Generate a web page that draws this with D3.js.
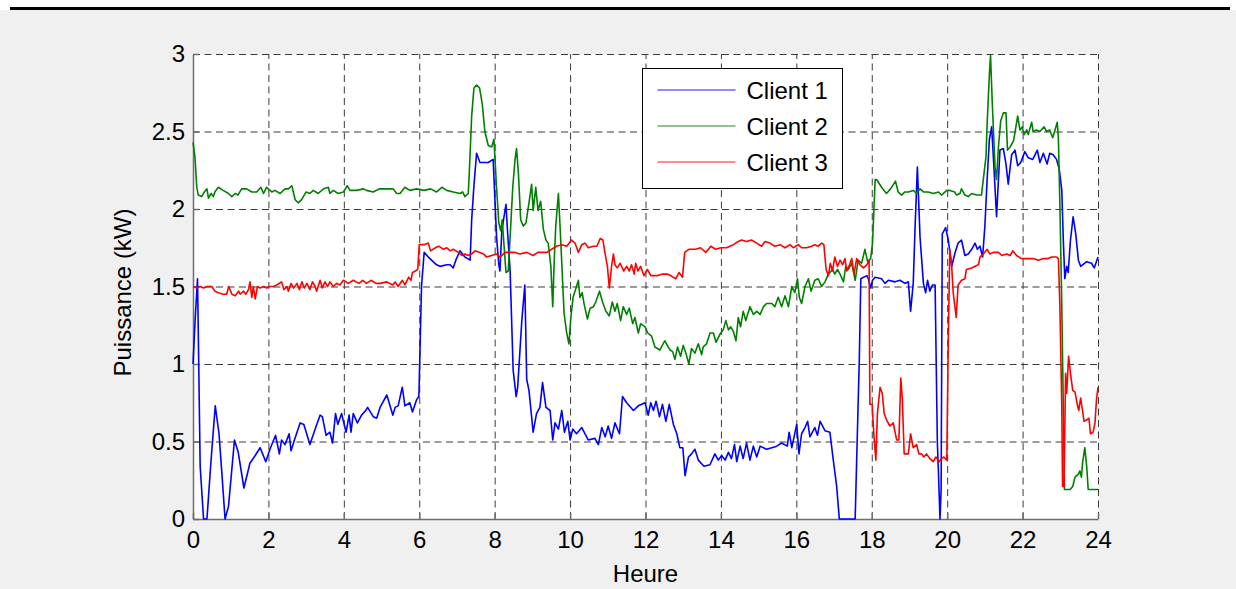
<!DOCTYPE html>
<html lang="fr">
<head>
<meta charset="UTF-8">
<script src="https://cdn.jsdelivr.net/npm/d3@7/dist/d3.min.js"></script>
<title>Puissance par client</title>
<style>
  body { margin: 0; background: #fff; }
  text { font-family: "Liberation Sans", Arial, Helvetica, sans-serif; fill: #000; }
  .tick_text { font-size: 24px; }
  .axis_text { font-size: 24px; }
  .legend_text { font-size: 24px; }
  .grid line { stroke: #3a3a3a; stroke-width: 1; stroke-dasharray: 7,4.5; }
  .grid path { display: none; }
  .axis path, .axis line { stroke: #6e6e6e; stroke-width: 1.5; fill: none; }
</style>
</head>
<body>
<div id="chart"></div>
<script>
// hours / kW pairs
var client1 = [[0,1.0],[0.06,1.3],[0.12,1.55],[0.19,0.34],[0.28,0],[0.37,0],[0.47,0.35],[0.59,0.73],[0.69,0.55],[0.77,0.28],[0.85,0],[0.94,0.08],
  [1.1,0.51],[1.2,0.43],[1.35,0.2],[1.51,0.36],[1.65,0.41],[1.78,0.46],[1.93,0.37],[2.04,0.45],[2.19,0.54],[2.29,0.42],[2.35,0.51],[2.44,0.48],
  [2.55,0.55],[2.6,0.44],[2.69,0.51],[2.84,0.62],[2.94,0.61],[3.1,0.48],[3.24,0.58],[3.37,0.67],[3.43,0.66],[3.53,0.54],[3.63,0.56],[3.7,0.49],
  [3.78,0.68],[3.84,0.61],[3.94,0.68],[4.06,0.56],[4.14,0.67],[4.19,0.56],[4.25,0.68],[4.36,0.62],[4.47,0.67],[4.58,0.70],[4.63,0.72],[4.78,0.66],
  [4.87,0.65],[4.96,0.72],[5.14,0.80],[5.3,0.67],[5.36,0.72],[5.44,0.73],[5.55,0.85],[5.62,0.73],[5.75,0.75],[5.82,0.69],[5.93,0.77],[5.99,0.79],
  [6.06,1.5],[6.13,1.72],[6.24,1.69],[6.46,1.64],[6.55,1.63],[6.73,1.64],[6.82,1.64],[6.9,1.62],[6.97,1.67],[7.08,1.73],[7.21,1.69],[7.35,1.67],
  [7.39,1.93],[7.45,2.15],[7.52,2.36],[7.61,2.3],[7.83,2.3],[7.96,2.32],[8.05,1.82],[8.11,1.64],[8.14,1.6],[8.19,1.86],[8.3,2.03],[8.34,1.86],
  [8.41,1.6],[8.49,0.96],[8.57,0.79],[8.61,0.85],[8.72,1.28],[8.8,1.51],[8.85,0.9],[8.91,0.83],[9.02,0.56],[9.11,0.68],[9.2,0.72],[9.27,0.88],
  [9.36,0.72],[9.47,0.70],[9.54,0.51],[9.6,0.62],[9.69,0.58],[9.78,0.70],[9.85,0.56],[9.94,0.63],[10.0,0.51],[10.07,0.58],[10.17,0.55],[10.31,0.59],
  [10.48,0.51],[10.66,0.52],[10.75,0.48],[10.84,0.59],[10.93,0.53],[11.01,0.6],[11.1,0.52],[11.19,0.62],[11.31,0.55],[11.39,0.79],[11.5,0.75],
  [11.68,0.70],[11.81,0.73],[11.99,0.75],[12.07,0.67],[12.14,0.75],[12.21,0.70],[12.28,0.76],[12.37,0.66],[12.45,0.74],[12.54,0.63],[12.63,0.74],
  [12.74,0.61],[12.83,0.55],[12.91,0.46],[12.99,0.46],[13.05,0.28],[13.14,0.40],[13.22,0.42],[13.31,0.45],[13.4,0.38],[13.55,0.34],[13.71,0.35],
  [13.84,0.42],[13.93,0.38],[14.02,0.41],[14.11,0.38],[14.2,0.43],[14.28,0.39],[14.36,0.48],[14.42,0.37],[14.51,0.47],[14.59,0.39],[14.68,0.49],
  [14.77,0.38],[14.86,0.47],[14.95,0.40],[15.04,0.47],[15.21,0.45],[15.35,0.46],[15.48,0.47],[15.61,0.49],[15.76,0.47],[15.81,0.56],[15.88,0.46],
  [15.94,0.53],[16.01,0.61],[16.07,0.42],[16.14,0.55],[16.23,0.59],[16.3,0.63],[16.36,0.53],[16.49,0.59],[16.56,0.54],[16.63,0.63],[16.76,0.57],
  [16.89,0.56],[16.98,0.38],[17.07,0.21],[17.14,0],[17.56,0],[17.6,0.38],[17.67,1.03],[17.71,1.55],[17.87,1.57],[17.91,1.55],[17.97,1.49],
  [18.02,1.54],[18.09,1.56],[18.26,1.55],[18.35,1.52],[18.44,1.54],[18.62,1.53],[18.75,1.54],[18.88,1.52],[18.97,1.53],[19.03,1.34],[19.1,1.52],
  [19.15,1.89],[19.21,2.27],[19.28,1.82],[19.37,1.52],[19.43,1.46],[19.48,1.54],[19.54,1.47],[19.61,1.51],[19.68,1.51],[19.74,0.49],[19.77,0.29],
  [19.81,0],[19.84,0.19],[19.87,1.84],[19.96,1.88],[20.03,1.80],[20.12,1.63],[20.2,1.71],[20.29,1.78],[20.38,1.80],[20.47,1.70],[20.56,1.71],
  [20.65,1.74],[20.74,1.78],[20.8,1.74],[20.87,1.76],[20.94,1.69],[21.0,1.89],[21.06,2.19],[21.12,2.45],[21.18,2.53],[21.24,2.27],[21.31,1.95],
  [21.36,2.19],[21.4,2.38],[21.49,2.39],[21.56,2.29],[21.62,2.16],[21.71,2.35],[21.8,2.38],[21.87,2.28],[21.95,2.3],[22.06,2.37],[22.15,2.33],
  [22.27,2.32],[22.39,2.38],[22.46,2.3],[22.55,2.36],[22.65,2.29],[22.72,2.36],[22.81,2.35],[22.9,2.32],[22.97,2.26],[23.04,2.12],[23.08,1.80],
  [23.12,1.55],[23.17,1.63],[23.21,1.59],[23.27,1.80],[23.34,1.95],[23.41,1.84],[23.48,1.67],[23.54,1.63],[23.7,1.66],[23.83,1.65],[23.9,1.62],[24,1.69]];

var client2 = [[0,2.43],[0.05,2.34],[0.1,2.14],[0.14,2.09],[0.23,2.08],[0.3,2.11],[0.37,2.13],[0.41,2.07],[0.48,2.10],[0.54,2.08],[0.58,2.11],
  [0.67,2.14],[0.8,2.12],[0.94,2.10],[1.03,2.08],[1.12,2.10],[1.19,2.09],[1.29,2.13],[1.42,2.13],[1.56,2.11],[1.69,2.11],[1.8,2.14],[1.87,2.10],
  [1.95,2.14],[2.09,2.11],[2.17,2.12],[2.31,2.10],[2.44,2.13],[2.53,2.13],[2.62,2.15],[2.71,2.06],[2.79,2.04],[2.88,2.06],[3.0,2.11],[3.1,2.10],
  [3.19,2.12],[3.32,2.10],[3.46,2.13],[3.59,2.14],[3.63,2.10],[3.72,2.12],[3.85,2.10],[3.99,2.11],[4.09,2.15],[4.16,2.12],[4.34,2.12],[4.52,2.13],
  [4.6,2.12],[4.78,2.11],[4.94,2.13],[5.12,2.13],[5.31,2.13],[5.4,2.10],[5.49,2.10],[5.62,2.14],[5.75,2.12],[5.93,2.13],[6.13,2.12],[6.3,2.13],
  [6.46,2.11],[6.6,2.14],[6.73,2.12],[6.9,2.11],[7.08,2.10],[7.15,2.11],[7.21,2.08],[7.3,2.10],[7.33,2.25],[7.39,2.6],[7.45,2.78],[7.52,2.80],
  [7.6,2.78],[7.67,2.68],[7.74,2.5],[7.83,2.41],[7.92,2.40],[7.98,2.45],[8.05,2.14],[8.11,1.91],[8.16,1.86],[8.2,1.93],[8.25,1.76],[8.3,1.59],
  [8.36,1.60],[8.41,1.82],[8.48,2.14],[8.54,2.32],[8.58,2.39],[8.63,2.23],[8.69,1.93],[8.76,1.89],[8.83,1.91],[8.91,2.04],[8.98,2.16],[9.02,1.99],
  [9.09,2.14],[9.15,1.99],[9.22,2.05],[9.29,1.87],[9.36,1.80],[9.42,1.78],[9.49,1.63],[9.54,1.37],[9.58,1.67],[9.62,1.89],[9.69,2.10],[9.73,1.91],
  [9.78,1.65],[9.84,1.33],[9.91,1.20],[9.97,1.13],[10.02,1.30],[10.08,1.43],[10.17,1.50],[10.22,1.54],[10.26,1.43],[10.32,1.46],[10.37,1.39],
  [10.46,1.29],[10.53,1.36],[10.62,1.37],[10.68,1.40],[10.78,1.47],[10.86,1.40],[10.95,1.34],[11.04,1.31],[11.12,1.40],[11.19,1.34],[11.25,1.39],
  [11.34,1.28],[11.41,1.37],[11.5,1.32],[11.57,1.36],[11.66,1.26],[11.72,1.30],[11.81,1.20],[11.87,1.26],[11.99,1.24],[12.06,1.20],[12.16,1.18],
  [12.25,1.11],[12.38,1.09],[12.51,1.15],[12.65,1.09],[12.72,1.08],[12.78,1.03],[12.85,1.11],[12.93,1.05],[13.0,1.12],[13.07,1.07],[13.15,1.0],
  [13.22,1.10],[13.31,1.07],[13.4,1.13],[13.49,1.06],[13.53,1.11],[13.62,1.13],[13.71,1.20],[13.8,1.20],[13.87,1.14],[13.97,1.19],[14.06,1.22],
  [14.13,1.28],[14.2,1.22],[14.26,1.24],[14.33,1.21],[14.4,1.15],[14.46,1.30],[14.52,1.24],[14.59,1.34],[14.66,1.28],[14.77,1.37],[14.86,1.32],
  [14.95,1.34],[15.04,1.32],[15.13,1.37],[15.21,1.39],[15.35,1.39],[15.43,1.37],[15.52,1.43],[15.61,1.37],[15.7,1.44],[15.79,1.37],[15.88,1.50],
  [15.96,1.46],[16.03,1.55],[16.08,1.43],[16.14,1.39],[16.23,1.50],[16.32,1.55],[16.39,1.47],[16.49,1.54],[16.58,1.55],[16.67,1.50],[16.76,1.53],
  [16.85,1.58],[16.96,1.61],[17.02,1.58],[17.09,1.61],[17.16,1.58],[17.25,1.53],[17.31,1.63],[17.38,1.61],[17.47,1.65],[17.56,1.54],[17.64,1.67],
  [17.73,1.65],[17.82,1.74],[17.89,1.66],[17.97,1.68],[18.02,1.78],[18.09,2.19],[18.13,2.19],[18.26,2.14],[18.39,2.10],[18.5,2.13],[18.63,2.18],
  [18.7,2.11],[18.79,2.09],[18.88,2.11],[18.97,2.11],[19.1,2.12],[19.19,2.10],[19.28,2.13],[19.37,2.11],[19.5,2.11],[19.63,2.10],[19.77,2.11],
  [19.85,2.09],[19.99,2.12],[20.07,2.12],[20.2,2.11],[20.25,2.09],[20.34,2.10],[20.38,2.13],[20.47,2.09],[20.56,2.08],[20.65,2.10],[20.78,2.09],
  [20.91,2.09],[21.03,2.34],[21.06,2.55],[21.12,2.87],[21.15,2.99],[21.2,2.66],[21.27,2.27],[21.31,2.19],[21.36,2.40],[21.42,2.57],[21.49,2.62],
  [21.56,2.62],[21.6,2.38],[21.67,2.40],[21.76,2.44],[21.81,2.51],[21.87,2.60],[21.93,2.51],[21.99,2.53],[22.04,2.48],[22.11,2.51],[22.15,2.48],
  [22.24,2.56],[22.28,2.50],[22.37,2.51],[22.46,2.50],[22.57,2.53],[22.64,2.50],[22.72,2.51],[22.8,2.46],[22.86,2.51],[22.92,2.56],[22.95,2.45],
  [22.99,2.02],[23.04,1.37],[23.08,0.72],[23.11,0.19],[23.26,0.19],[23.33,0.21],[23.39,0.27],[23.48,0.29],[23.52,0.31],[23.56,0.27],[23.59,0.36],
  [23.65,0.46],[23.7,0.34],[23.74,0.19],[24,0.19]];

var client3 = [[0,1.5],[0.1,1.49],[0.19,1.5],[0.28,1.49],[0.37,1.5],[0.5,1.5],[0.58,1.47],[0.67,1.46],[0.8,1.45],[0.89,1.45],[0.95,1.5],[1.03,1.45],
  [1.12,1.44],[1.21,1.47],[1.25,1.45],[1.34,1.47],[1.4,1.45],[1.47,1.48],[1.51,1.53],[1.56,1.43],[1.6,1.5],[1.65,1.42],[1.71,1.5],[1.78,1.49],
  [1.87,1.5],[1.95,1.49],[2.04,1.5],[2.13,1.5],[2.22,1.51],[2.35,1.53],[2.41,1.48],[2.49,1.5],[2.53,1.47],[2.6,1.52],[2.67,1.49],[2.76,1.52],
  [2.82,1.48],[2.89,1.53],[2.95,1.49],[3.02,1.52],[3.1,1.48],[3.17,1.53],[3.24,1.5],[3.28,1.47],[3.37,1.54],[3.43,1.49],[3.5,1.53],[3.57,1.5],
  [3.63,1.53],[3.72,1.5],[3.81,1.52],[3.9,1.51],[3.99,1.54],[4.12,1.52],[4.25,1.54],[4.4,1.52],[4.5,1.54],[4.6,1.52],[4.72,1.54],[4.85,1.52],
  [4.96,1.52],[5.14,1.53],[5.3,1.51],[5.36,1.53],[5.44,1.5],[5.55,1.54],[5.62,1.51],[5.72,1.56],[5.78,1.54],[5.82,1.59],[5.9,1.6],[5.96,1.61],
  [6.0,1.77],[6.13,1.77],[6.24,1.78],[6.3,1.73],[6.43,1.75],[6.52,1.76],[6.64,1.74],[6.73,1.75],[6.82,1.73],[6.9,1.74],[7.04,1.72],[7.13,1.70],
  [7.21,1.71],[7.3,1.70],[7.39,1.71],[7.48,1.73],[7.61,1.72],[7.7,1.71],[7.79,1.69],[7.92,1.70],[8.05,1.71],[8.14,1.69],[8.28,1.72],[8.41,1.72],
  [8.54,1.72],[8.67,1.71],[8.85,1.72],[9.02,1.70],[9.15,1.72],[9.24,1.72],[9.38,1.72],[9.51,1.74],[9.64,1.76],[9.78,1.77],[9.91,1.76],[10.04,1.8],
  [10.13,1.78],[10.22,1.72],[10.31,1.77],[10.4,1.78],[10.48,1.75],[10.62,1.76],[10.71,1.76],[10.8,1.81],[10.87,1.8],[10.93,1.71],[10.99,1.63],
  [11.04,1.49],[11.1,1.63],[11.15,1.71],[11.19,1.64],[11.25,1.62],[11.33,1.65],[11.42,1.6],[11.5,1.63],[11.57,1.6],[11.63,1.64],[11.7,1.58],
  [11.74,1.65],[11.8,1.6],[11.87,1.63],[11.96,1.57],[12.05,1.61],[12.14,1.57],[12.31,1.57],[12.45,1.58],[12.58,1.58],[12.67,1.57],[12.8,1.55],
  [12.89,1.59],[12.98,1.56],[13.04,1.72],[13.15,1.74],[13.33,1.74],[13.46,1.75],[13.6,1.72],[13.73,1.76],[13.86,1.74],[14.0,1.75],[14.15,1.75],
  [14.33,1.77],[14.46,1.79],[14.55,1.8],[14.68,1.79],[14.81,1.80],[14.95,1.78],[15.08,1.76],[15.17,1.79],[15.3,1.78],[15.43,1.76],[15.57,1.77],
  [15.7,1.75],[15.83,1.77],[15.92,1.75],[16.05,1.77],[16.14,1.75],[16.27,1.75],[16.41,1.76],[16.49,1.77],[16.58,1.76],[16.67,1.78],[16.73,1.77],
  [16.79,1.61],[16.85,1.57],[16.9,1.65],[16.96,1.6],[17.02,1.69],[17.09,1.63],[17.16,1.67],[17.23,1.64],[17.29,1.68],[17.34,1.6],[17.41,1.64],
  [17.47,1.68],[17.53,1.58],[17.6,1.68],[17.69,1.64],[17.78,1.62],[17.87,1.64],[17.93,1.67],[17.95,0.74],[18.01,0.74],[18.06,0.53],[18.11,0.38],
  [18.15,0.68],[18.22,0.85],[18.28,0.81],[18.33,0.68],[18.39,0.64],[18.48,0.6],[18.57,0.62],[18.66,0.51],[18.72,0.51],[18.77,0.91],[18.81,0.78],
  [18.86,0.42],[18.97,0.42],[19.03,0.55],[19.1,0.46],[19.19,0.48],[19.25,0.42],[19.32,0.42],[19.38,0.40],[19.45,0.42],[19.54,0.39],[19.63,0.37],
  [19.7,0.40],[19.79,0.37],[19.85,0.39],[19.91,0.40],[19.99,0.38],[20.03,1.16],[20.07,1.74],[20.12,1.63],[20.16,1.46],[20.24,1.3],[20.29,1.51],
  [20.38,1.54],[20.47,1.55],[20.51,1.61],[20.65,1.62],[20.74,1.63],[20.83,1.64],[20.87,1.69],[20.96,1.71],[21.06,1.74],[21.13,1.71],[21.22,1.72],
  [21.36,1.72],[21.45,1.70],[21.58,1.71],[21.67,1.70],[21.74,1.73],[21.84,1.70],[21.97,1.68],[22.11,1.68],[22.28,1.68],[22.42,1.67],[22.55,1.68],
  [22.68,1.68],[22.77,1.69],[22.9,1.69],[22.95,1.68],[22.99,1.37],[23.04,0.72],[23.06,0.21],[23.1,0.21],[23.14,0.94],[23.17,0.81],[23.22,1.05],
  [23.27,0.94],[23.33,0.83],[23.39,0.82],[23.45,0.74],[23.49,0.70],[23.54,0.78],[23.59,0.70],[23.63,0.63],[23.7,0.64],[23.76,0.65],[23.8,0.55],
  [23.87,0.56],[23.92,0.62],[23.96,0.77],[24,0.85]];

var seriesNames = ["Client 1", "Client 2", "Client 3"];
var seriesColors = ["#0000ff", "#008000", "#ff0000"];
var xTicks = [0,2,4,6,8,10,12,14,16,18,20,22,24];
var yTicks = [0,0.5,1,1.5,2,2.5,3];
var yTickLabels = ["0","0.5","1","1.5","2","2.5","3"];

var W = 1236, H = 589;
var plotLeft = 193, plotRight = 1098, plotTop = 54, plotBottom = 519;

var svg = d3.select("#chart").append("svg")
  .attr("width", W).attr("height", H);

// figure background + top rule
svg.append("rect").attr("width", W).attr("height", H).style("fill", "#fff");
svg.append("rect").attr("x", 0).attr("y", 10).attr("width", W).attr("height", H - 10).style("fill", "#f0f0f0");
svg.append("rect").attr("x", 10).attr("y", 7).attr("width", 1220).attr("height", 3).style("fill", "#000");

var x = d3.scaleLinear().domain([0, 24]).range([plotLeft, plotRight]);
var y = d3.scaleLinear().domain([0, 3]).range([plotBottom, plotTop]);

svg.append("rect")
  .attr("x", plotLeft).attr("y", plotTop)
  .attr("width", plotRight - plotLeft).attr("height", plotBottom - plotTop)
  .style("fill", "#fff");

// grid
svg.append("g").attr("class", "grid")
  .attr("transform", "translate(0," + plotBottom + ")")
  .call(d3.axisBottom(x).tickValues(xTicks).tickSize(-(plotBottom - plotTop)).tickFormat(""));
svg.append("g").attr("class", "grid")
  .attr("transform", "translate(" + plotLeft + ",0)")
  .call(d3.axisLeft(y).tickValues(yTicks).tickSize(-(plotRight - plotLeft)).tickFormat(""));

// axes (inward ticks, matlab style)
var xAxis = svg.append("g").attr("class", "axis")
  .attr("transform", "translate(0," + plotBottom + ")")
  .call(d3.axisBottom(x).tickValues(xTicks).tickSizeInner(-6).tickSizeOuter(0).tickPadding(12)
    .tickFormat(function(d) { return String(d); }));

var yAxis = svg.append("g").attr("class", "axis")
  .attr("transform", "translate(" + plotLeft + ",0)")
  .call(d3.axisLeft(y).tickValues(yTicks).tickSizeInner(-6).tickSizeOuter(0).tickPadding(8)
    .tickFormat(function(d, i) { return yTickLabels[i]; }));

svg.selectAll(".axis").attr("font-family", null).attr("font-size", null);
svg.selectAll(".axis text").attr("class", "tick_text").attr("fill", "#000");

// lines
svg.append("clipPath").attr("id", "plotclip")
  .append("rect").attr("x", plotLeft - 1).attr("y", plotTop - 1)
  .attr("width", plotRight - plotLeft + 2).attr("height", plotBottom - plotTop + 2);

var line = d3.line()
  .x(function(d) { return x(d[0]); })
  .y(function(d) { return y(d[1]); });

var lines = svg.append("g").attr("clip-path", "url(#plotclip)");
[client1, client2, client3].forEach(function(data, i) {
  lines.append("path")
    .datum(data)
    .attr("d", line)
    .style("fill", "none")
    .style("stroke", seriesColors[i])
    .style("stroke-width", 1.6)
    .style("stroke-linejoin", "round");
});

// legend
var legend = svg.append("g").attr("transform", "translate(642.5,68.5)");
legend.append("rect")
  .attr("width", 200).attr("height", 120)
  .style("fill", "#fff").style("stroke", "#000").style("stroke-width", 1);
seriesNames.forEach(function(name, i) {
  var ly = 21.5 + i * 36;
  legend.append("line")
    .attr("x1", 15).attr("x2", 93).attr("y1", ly).attr("y2", ly)
    .style("stroke", seriesColors[i]).style("stroke-opacity", 0.6).style("stroke-width", 1.5);
  legend.append("text")
    .attr("class", "legend_text")
    .attr("x", 104).attr("y", ly + 9)
    .text(name);
});

// axis titles
svg.append("text")
  .attr("class", "axis_text")
  .attr("x", (plotLeft + plotRight) / 2).attr("y", 582)
  .style("text-anchor", "middle")
  .text("Heure");

svg.append("text")
  .attr("class", "axis_text")
  .attr("transform", "translate(131," + ((plotTop + plotBottom) / 2 + 6) + ") rotate(-90)")
  .style("text-anchor", "middle")
  .text("Puissance (kW)");
</script>
</body>
</html>
